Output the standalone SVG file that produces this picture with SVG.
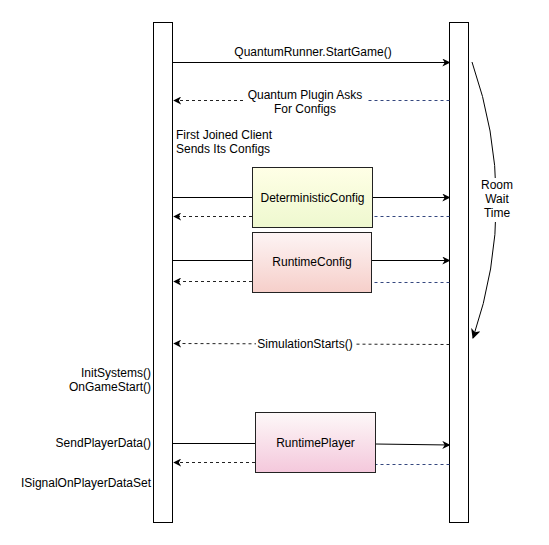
<svg xmlns="http://www.w3.org/2000/svg" width="549" height="545" viewBox="0 0 549 545">
<style>
text{font-family:"Liberation Sans",Arial,sans-serif;font-size:12px;fill:#000}
.life{fill:#fff;stroke:#000;stroke-width:1}
.box{stroke:#222;stroke-width:1}
.msg{fill:none;stroke:#000;stroke-width:1}
.ret{fill:none;stroke:#222;stroke-width:1;stroke-dasharray:3 3}
.retb{fill:none;stroke:#34477e;stroke-width:1;stroke-dasharray:3 3}
.c{text-anchor:middle}
.r{text-anchor:end}
</style>
<defs>
<marker id="ah" viewBox="0 0 10 10" refX="9" refY="5" markerWidth="8" markerHeight="8" markerUnits="userSpaceOnUse" orient="auto">
<path d="M0,0 L10,5 L0,10 L3,5 Z" fill="#000"/>
</marker>
<marker id="ahb" viewBox="0 0 10 10" refX="9" refY="5" markerWidth="10" markerHeight="10" markerUnits="userSpaceOnUse" orient="auto">
<path d="M0,0 L10,5 L0,10 L3,5 Z" fill="#000"/>
</marker>
<linearGradient id="gy" x1="0" y1="0" x2="0" y2="1">
<stop offset="0" stop-color="#ffffe6"/>
<stop offset="1" stop-color="#eef8cf"/>
</linearGradient>
<linearGradient id="gp" x1="0" y1="0" x2="0" y2="1">
<stop offset="0" stop-color="#fdf4f4"/>
<stop offset="1" stop-color="#f6cfca"/>
</linearGradient>
<linearGradient id="gm" x1="0" y1="0" x2="0" y2="1">
<stop offset="0" stop-color="#fdf8f8"/>
<stop offset="1" stop-color="#f4c8dc"/>
</linearGradient>
</defs>

<g id="client">
<rect class="life" x="153.5" y="22.5" width="19" height="500"/>
</g>
<g id="server">
<rect class="life" x="449.5" y="22.5" width="19" height="500"/>
</g>

<g id="connectors">
<line class="msg" x1="172.5" y1="62.5" x2="449.5" y2="62.5" marker-end="url(#ah)"/>
<line class="retb" x1="449.5" y1="100.5" x2="368" y2="100.5"/>
<line class="ret" x1="243" y1="100.5" x2="174" y2="100.5" marker-end="url(#ah)"/>

<line class="msg" x1="172.5" y1="197.5" x2="252" y2="197.5"/>
<line class="msg" x1="373" y1="197.5" x2="449.5" y2="197.5" marker-end="url(#ah)"/>
<line class="retb" x1="449.5" y1="216.5" x2="373" y2="216.5"/>
<line class="ret" x1="252" y1="216.5" x2="174" y2="216.5" marker-end="url(#ah)"/>

<line class="msg" x1="172.5" y1="260.5" x2="252" y2="260.5"/>
<line class="msg" x1="372" y1="260.5" x2="449.5" y2="260.5" marker-end="url(#ah)"/>
<line class="retb" x1="449.5" y1="282.5" x2="372" y2="282.5"/>
<line class="ret" x1="252" y1="281.5" x2="174" y2="281.5" marker-end="url(#ah)"/>

<line class="ret" x1="449.5" y1="344.5" x2="174" y2="343.5" marker-end="url(#ah)"/>

<line class="msg" x1="172.5" y1="443.5" x2="255" y2="443.5"/>
<line class="msg" x1="375" y1="444" x2="449.5" y2="445" marker-end="url(#ah)"/>
<line class="retb" x1="449.5" y1="464.5" x2="375" y2="464.5"/>
<line class="ret" x1="255" y1="462.5" x2="174" y2="462.5" marker-end="url(#ah)"/>

<path class="msg" d="M472,62 Q520,200 473,338" marker-end="url(#ahb)"/>
</g>

<g id="labels">
<text class="c" x="313" y="56">QuantumRunner.StartGame()</text>
<text class="c" x="305" y="99">Quantum Plugin Asks</text>
<text class="c" x="305" y="113">For Configs</text>
<text x="176" y="139">First Joined Client</text>
<text x="176" y="153">Sends Its Configs</text>
<rect x="256" y="337" width="98" height="14" fill="#fff"/>
<text class="c" x="305" y="348">SimulationStarts()</text>
<text class="r" x="151" y="377">InitSystems()</text>
<text class="r" x="151" y="391">OnGameStart()</text>
<text class="r" x="151" y="447">SendPlayerData()</text>
<text class="r" x="151" y="487">ISignalOnPlayerDataSet</text>
<rect x="480" y="178" width="36" height="44" fill="#fff"/>
<text class="c" x="497" y="189">Room</text>
<text class="c" x="497" y="203">Wait</text>
<text class="c" x="497" y="217">Time</text>
</g>

<g id="deterministicConfig">
<rect class="box" x="252.5" y="167.5" width="120" height="60" fill="url(#gy)"/>
<text class="c" x="312.5" y="202">DeterministicConfig</text>
</g>
<g id="runtimeConfig">
<rect class="box" x="252.5" y="232.5" width="119" height="60" fill="url(#gp)"/>
<text class="c" x="312" y="266">RuntimeConfig</text>
</g>
<g id="runtimePlayer">
<rect class="box" x="255.5" y="412.5" width="120" height="60" fill="url(#gm)"/>
<text class="c" x="315.5" y="447">RuntimePlayer</text>
</g>
</svg>
